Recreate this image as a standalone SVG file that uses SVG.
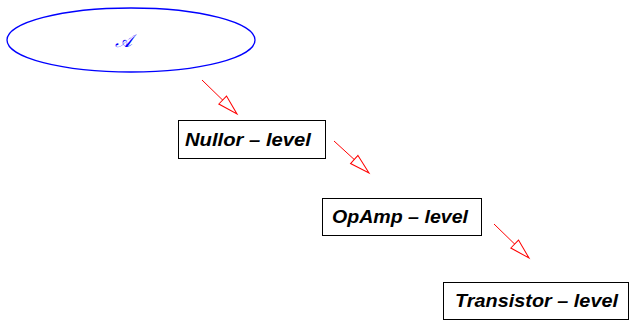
<svg xmlns="http://www.w3.org/2000/svg" width="629" height="320" viewBox="0 0 629 320">
  <style>
    .box { fill: #ffffff; stroke: #000000; stroke-width: 1; }
    .lbl { font-family: "Liberation Sans", Arial, sans-serif; font-weight: bold; font-style: italic; font-size: 19px; fill: #000000; }
    .edge { stroke: #ff0000; stroke-width: 1; fill: none; }
  </style>
  <defs>
    <marker id="openTri" markerUnits="userSpaceOnUse" markerWidth="24" markerHeight="14" refX="21" refY="7" orient="auto" viewBox="0 0 24 14">
      <polygon points="1,1.5 21,7 1,12.5" fill="#ffffff" stroke="#ff0000" stroke-width="1"/>
    </marker>
  </defs>

  <g id="node-a">
    <ellipse cx="131" cy="40" rx="124" ry="32" fill="none" stroke="#0000ff" stroke-width="1.3"/>
    <text x="123" y="47" text-anchor="middle" font-family="'DejaVu Serif', 'Liberation Serif', serif" font-style="italic" font-size="18" fill="#0000ff">𝒜</text>
  </g>

  <g id="node-nullor">
    <rect class="box" x="178.5" y="120.5" width="147" height="38"/>
    <text class="lbl" x="185" y="146" textLength="126" lengthAdjust="spacingAndGlyphs">Nullor – level</text>
  </g>

  <g id="node-opamp">
    <rect class="box" x="322.5" y="198.5" width="159" height="37"/>
    <text class="lbl" x="332" y="223" textLength="136" lengthAdjust="spacingAndGlyphs">OpAmp – level</text>
  </g>

  <g id="node-transistor">
    <rect class="box" x="443.5" y="282.5" width="185" height="37"/>
    <text class="lbl" x="455" y="307" textLength="163" lengthAdjust="spacingAndGlyphs">Transistor – level</text>
  </g>

  <g id="connectors">
    <line class="edge" x1="202" y1="80" x2="237" y2="114" marker-end="url(#openTri)"/>
    <line class="edge" x1="334" y1="141" x2="369" y2="173" marker-end="url(#openTri)"/>
    <line class="edge" x1="494" y1="224" x2="529" y2="258" marker-end="url(#openTri)"/>
  </g>
</svg>
